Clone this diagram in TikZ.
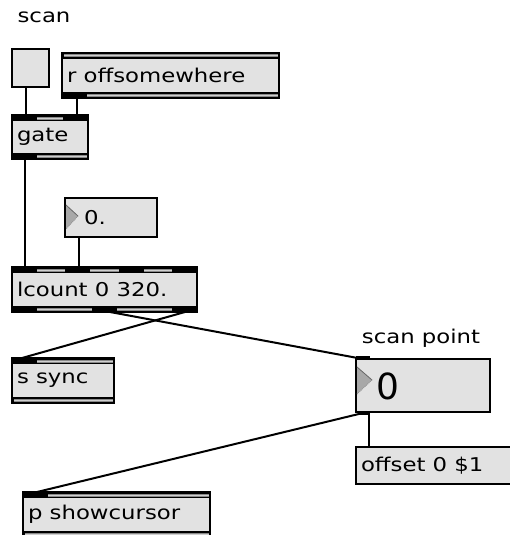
\documentclass[tikz,border=0pt]{standalone}
\usepackage{fontspec}
\newfontfamily\maxfont[FakeStretch=1.2]{DejaVu Sans}
\newfontfamily\bigfont{DejaVu Sans}
\newcommand\objfont{\maxfont\fontsize{19}{22}\selectfont}
\definecolor{boxfill}{HTML}{E2E2E2}
\definecolor{stripgray}{HTML}{8A8A8A}
\definecolor{striplight}{HTML}{CFCFCF}
\definecolor{trigray}{HTML}{A8A8A8}
\tikzset{
  box/.style={draw=black, line width=1.5, fill=boxfill, inner sep=0, outer sep=0},
  obj/.style={box, inner xsep=5, inner ysep=0},
  lbl/.style={inner sep=0},
  wire/.style={line width=2, black},
}
% name, x, y, w, h, text, top port offsets, bottom port offsets
\newcommand\objbox[8]{%
  \pgfmathsetmacro\tw{#4-10}%
  \node[obj, minimum height=#5, anchor=north west] (#1) at (#2,#3) {\makebox[\tw pt][l]{\objfont #6}};
  \fill[black] (#2,#3) rectangle ++(#4,6);
  \fill[stripgray] (#2+1.5,#3+1.5) rectangle ++(#4-3,3);
  \draw[striplight, line width=1] (#2+1.5,#3+3) -- ++(#4-3,0);
  \foreach \p in {#7} {\ifx\p\empty\else\fill[black] (#2+\p,#3) rectangle ++(25,6);\fi}
  \fill[black] (#2,#3+#5-6) rectangle ++(#4,6);
  \fill[stripgray] (#2+1.5,#3+#5-4.5) rectangle ++(#4-3,3);
  \draw[striplight, line width=1] (#2+1.5,#3+#5-3) -- ++(#4-3,0);
  \foreach \p in {#8} {\ifx\p\empty\else\fill[black] (#2+\p,#3+#5-6) rectangle ++(25,6);\fi}
  \draw[black, line width=1.5] (#1.north west) rectangle (#1.south east);
}
\begin{document}
\begin{tikzpicture}[x=1pt, y=-1pt]
\useasboundingbox (0,0) rectangle (509,535);
\fill[white] (0,0) rectangle (509,535);

% labels
\node[lbl] (lscan) at (44,17) {\objfont scan};
\node[lbl] (lpoint) at (421,338) {\objfont scan point};

% toggle
\node[box, minimum width=37, minimum height=38, anchor=north west] (tog) at (12,49) {};

% objects
\objbox{roff}{62}{53}{217}{45}{r offsomewhere}{}{0}
\objbox{gate}{12}{115}{76}{44}{gate}{0,51}{0}
\objbox{lc}{12}{267}{185}{45}{lcount 0 320.}{0,53,107,160}{0,80,160}
\objbox{ss}{12}{358}{102}{45}{s sync}{0}{}
\objbox{ps}{23}{492}{187}{45}{p showcursor}{0}{}

% number box 0.
\node[box, minimum width=92, minimum height=39, anchor=north west] (num0) at (65,198) {};
\node[anchor=west, inner sep=0] (num0t) at (84,217.5) {\objfont 0.};
\fill[trigray] (66,205) -- (78,216) -- (66,229) -- cycle;
\draw[black!60, line width=0.8] (66,205) -- (78,216);
\draw[black!45, line width=0.8, densely dotted] (78,216) -- (66,229);

% number box scan point
\node[box, minimum width=134, minimum height=53, anchor=north west] (sp) at (356,359) {};
\node[anchor=west, inner sep=0, font=\bigfont\fontsize{36}{40}\selectfont] (spt) at (376,386) {0};
\fill[trigray] (357,367) -- (372,380) -- (357,394) -- cycle;
\draw[black!60, line width=0.8] (357,367) -- (372,380);
\draw[black!45, line width=0.8, densely dotted] (372,380) -- (357,394);
\fill[black] (356,356) rectangle ++(14,3);
\fill[black] (360,412) rectangle ++(10,3);

% message box
\node[box, minimum height=37, anchor=north west, inner xsep=5] (off) at (356,447) {\makebox[150pt][l]{\objfont offset 0 \$1}};
\draw[black, line width=2.5] (off.south west) -- (off.south east);

% wires
\draw[wire] ([xshift=14]tog.south west) -- ([xshift=14]gate.north west);
\draw[wire] ([xshift=15]roff.south west) -- ([xshift=65]gate.north west);
\draw[wire] ([xshift=13]gate.south west) -- ([xshift=13]lc.north west);
\draw[wire] ([xshift=14]num0.south west) -- ([xshift=67]lc.north west);
\draw[wire] ([xshift=98]lc.south west) -- ([xshift=7]sp.north west);
\draw[wire] ([xshift=173]lc.south west) -- ([xshift=10]ss.north west);
\draw[wire] ([xshift=11]sp.south west) -- ([xshift=14]ps.north west);
\draw[wire] ([xshift=13]sp.south west) -- ([xshift=13]off.north west);
\end{tikzpicture}
\end{document}
